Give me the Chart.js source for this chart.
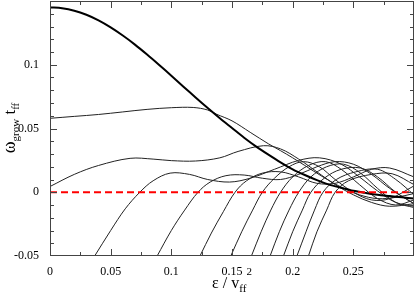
<!DOCTYPE html>
<html>
<head>
<meta charset="utf-8">
<script src="https://cdn.jsdelivr.net/npm/chart.js@4/dist/chart.umd.min.js"></script>
<style>
  body { margin: 0; background: #fff; }
  canvas { display: block; }
</style>
</head>
<body>
<canvas id="chart-1" width="415" height="295"></canvas>
<script>
// tick positions
const xTicks = [0, 0.05, 0.1, 0.15, 0.2, 0.25];
const yTicks = [-0.05, 0, 0.05, 0.1];

// thick curve
const epsThick = [0, 0.01, 0.02, 0.03, 0.04, 0.05, 0.06, 0.07, 0.08, 0.09, 0.1, 0.11, 0.12, 0.13, 0.14, 0.15,
  0.16, 0.17, 0.18, 0.19, 0.2, 0.21, 0.22, 0.23, 0.24, 0.25, 0.26, 0.27, 0.28, 0.29, 0.3];
const growThick = [0.145, 0.1443, 0.1424, 0.1392, 0.1348, 0.1293, 0.1229, 0.1158, 0.108, 0.0998, 0.0914, 0.0828,
  0.0743, 0.066, 0.058, 0.0504, 0.0428, 0.0358, 0.0295, 0.0235, 0.018, 0.0135, 0.0095, 0.006, 0.0035, 0.0012,
  -0.0005, -0.002, -0.003, -0.004, -0.005];

// thin curves (modes)
const epsA = [0, 0.02, 0.04, 0.06, 0.08, 0.1, 0.118, 0.13, 0.137, 0.15, 0.165, 0.18, 0.19, 0.2, 0.21, 0.225, 0.24, 0.255, 0.27, 0.285, 0.3];
const growA = [0.058, 0.0595, 0.061, 0.063, 0.065, 0.0663, 0.0665, 0.0645, 0.0613, 0.056, 0.047, 0.038, 0.0326, 0.027, 0.021, 0.012, 0.004, -0.002, -0.005, -0.004, -0.001];

const epsB = [0, 0.02, 0.04, 0.066, 0.085, 0.1, 0.12, 0.14, 0.155, 0.176, 0.19, 0.205, 0.22, 0.235, 0.25, 0.265, 0.28, 0.3];
const growB = [0.0045, 0.014, 0.021, 0.0266, 0.026, 0.0248, 0.0245, 0.027, 0.032, 0.0365, 0.034, 0.026, 0.016, 0.006, -0.002, -0.008, -0.011, -0.009];

const eps1 = [0.0368, 0.05, 0.062, 0.074, 0.085, 0.099, 0.115, 0.13, 0.148, 0.165, 0.185, 0.205, 0.222, 0.24, 0.255, 0.27, 0.285, 0.3];
const grow1 = [-0.05, -0.03, -0.013, 0, 0.009, 0.015, 0.014, 0.01, 0.008, 0.011, 0.018, 0.025, 0.027, 0.022, 0.012, 0.001, -0.008, -0.011];

const eps2 = [0.0883, 0.1, 0.111, 0.122, 0.132, 0.145, 0.16, 0.175, 0.19, 0.205, 0.22, 0.235, 0.25, 0.265, 0.28, 0.3];
const grow2 = [-0.05, -0.03, -0.014, 0, 0.008, 0.013, 0.0135, 0.011, 0.01, 0.014, 0.02, 0.024, 0.022, 0.014, 0.003, -0.009];

const eps3 = [0.1236, 0.133, 0.143, 0.1525, 0.162, 0.175, 0.19, 0.205, 0.22, 0.235, 0.25, 0.265, 0.28, 0.3];
const grow3 = [-0.05, -0.032, -0.015, 0, 0.009, 0.015, 0.016, 0.012, 0.007, 0.007, 0.012, 0.018, 0.019, 0.012];

const eps4 = [0.149, 0.158, 0.167, 0.175, 0.185, 0.197, 0.209, 0.222, 0.235, 0.25, 0.265, 0.28, 0.3];
const grow4 = [-0.05, -0.031, -0.014, 0, 0.011, 0.02, 0.024, 0.02, 0.01, 0, -0.006, -0.005, 0.005];

const eps5 = [0.166, 0.174, 0.182, 0.19, 0.2, 0.213, 0.227, 0.24, 0.255, 0.27, 0.285, 0.3];
const grow5 = [-0.05, -0.031, -0.014, 0, 0.012, 0.021, 0.024, 0.018, 0.006, -0.005, -0.01, -0.006];

const eps6 = [0.1814, 0.189, 0.197, 0.205, 0.215, 0.228, 0.242, 0.256, 0.27, 0.285, 0.3];
const grow6 = [-0.05, -0.031, -0.014, 0, 0.012, 0.02, 0.022, 0.015, 0.003, -0.008, -0.012];

const eps7 = [0.1924, 0.2, 0.208, 0.215, 0.226, 0.24, 0.256, 0.27, 0.285, 0.3];
const grow7 = [-0.05, -0.031, -0.014, 0, 0.011, 0.018, 0.019, 0.012, 0, -0.009];

const eps8 = [0.2035, 0.211, 0.218, 0.225, 0.236, 0.252, 0.27, 0.285, 0.3];
const grow8 = [-0.05, -0.031, -0.014, 0, 0.01, 0.016, 0.018, 0.01, -0.002];

const eps9 = [0.213, 0.22, 0.228, 0.235, 0.246, 0.265, 0.282, 0.3];
const grow9 = [-0.05, -0.031, -0.014, 0, 0.009, 0.014, 0.0145, 0.006];

const thinCurves = [
  [epsA, growA], [epsB, growB], [eps1, grow1], [eps2, grow2], [eps3, grow3],
  [eps4, grow4], [eps5, grow5], [eps6, grow6], [eps7, grow7], [eps8, grow8], [eps9, grow9]
];

const toPoints = (xs, ys) => xs.map((x, i) => ({ x: x, y: ys[i] }));

const datasets = [
  {
    data: [{ x: 0, y: 0 }, { x: 0.3, y: 0 }],
    borderColor: "#ff0000",
    borderWidth: 2,
    borderDash: [7, 4],
    order: 0,
  },
  {
    data: toPoints(epsThick, growThick),
    borderColor: "#000",
    borderWidth: 2,
    tension: 0.3,
    order: 1,
  },
];
thinCurves.forEach(([xs, ys]) => {
  datasets.push({
    data: toPoints(xs, ys),
    borderColor: "#222",
    borderWidth: 1,
    tension: 0.35,
    order: 2,
  });
});

// frame, inward ticks and axis titles
const framePlugin = {
  id: "frame",
  afterDraw(chart) {
    const { ctx, chartArea: a, scales } = chart;
    const x = scales.x, y = scales.y;
    ctx.save();
    ctx.strokeStyle = "#444";
    ctx.lineWidth = 1;
    ctx.strokeRect(a.left + 0.5, a.top + 0.5, a.right - a.left - 1, a.bottom - a.top - 1);
    ctx.beginPath();
    for (let i = 1; i < 12; i++) {
      const v = i * 0.025;
      const len = i % 2 === 0 ? 7 : 4;
      const p = Math.round(x.getPixelForValue(v)) + 0.5;
      ctx.moveTo(p, a.bottom); ctx.lineTo(p, a.bottom - len);
      ctx.moveTo(p, a.top); ctx.lineTo(p, a.top + len);
    }
    for (let i = -4; i < 15; i++) {
      const v = i * 0.01;
      const len = i % 5 === 0 ? 7 : 4;
      const p = Math.round(y.getPixelForValue(v)) + 0.5;
      ctx.moveTo(a.left, p); ctx.lineTo(a.left + len, p);
      ctx.moveTo(a.right, p); ctx.lineTo(a.right - len, p);
    }
    ctx.stroke();

    const drawParts = (parts, cx, cy) => {
      let w = 0;
      parts.forEach((p) => {
        ctx.font = p.size + "px 'Liberation Serif'";
        p.w = ctx.measureText(p.t).width;
        w += p.w;
      });
      let px = cx - w / 2;
      ctx.fillStyle = "#000";
      ctx.textBaseline = "alphabetic";
      ctx.textAlign = "left";
      parts.forEach((p) => {
        ctx.font = p.size + "px 'Liberation Serif'";
        ctx.fillText(p.t, px, cy + p.dy);
        px += p.w;
      });
    };

    // x title: ε / v_ff^2
    drawParts([
      { t: "ε / v", size: 16, dy: 0 },
      { t: "ff", size: 11, dy: 4 },
      { t: "2", size: 11, dy: -13 },
    ], 232, 288);

    // y title: ω_grow t_ff
    ctx.save();
    ctx.translate(15, 128);
    ctx.rotate(-Math.PI / 2);
    drawParts([
      { t: "ω", size: 18, dy: 0 },
      { t: "grow", size: 11, dy: 4 },
      { t: " t", size: 17, dy: 0 },
      { t: "ff", size: 11, dy: 4 },
    ], 0, 0);
    ctx.restore();
    ctx.restore();
  },
};

const fmt = (v) => String(+v.toFixed(2));

new Chart(document.getElementById("chart-1").getContext("2d"), {
  type: "line",
  data: { datasets: datasets },
  options: {
    responsive: false,
    animation: false,
    devicePixelRatio: 1,
    layout: { padding: { top: 1, right: 1, left: 0, bottom: 0 } },
    elements: { point: { radius: 0 } },
    plugins: { legend: { display: false }, tooltip: { enabled: false } },
    scales: {
      x: {
        type: "linear",
        min: 0,
        max: 0.3,
        afterFit: (s) => { s.height = 39; s.paddingLeft = 0; s.paddingRight = 0; },
        afterBuildTicks: (s) => { s.ticks = xTicks.map((v) => ({ value: v })); },
        grid: { display: false },
        border: { display: false },
        ticks: {
          padding: 1,
          maxRotation: 0,
          color: "#000",
          font: { family: "'Liberation Serif'", size: 12 },
          callback: (v) => fmt(v),
        },
      },
      y: {
        min: -0.05,
        max: 0.15,
        afterFit: (s) => { s.width = 50; s.paddingTop = 0; s.paddingBottom = 0; },
        afterBuildTicks: (s) => { s.ticks = yTicks.map((v) => ({ value: v })); },
        grid: { display: false },
        border: { display: false },
        ticks: {
          padding: 3,
          color: "#000",
          font: { family: "'Liberation Serif'", size: 12 },
          callback: (v) => fmt(v),
        },
      },
    },
  },
  plugins: [framePlugin],
});
</script>
</body>
</html>
